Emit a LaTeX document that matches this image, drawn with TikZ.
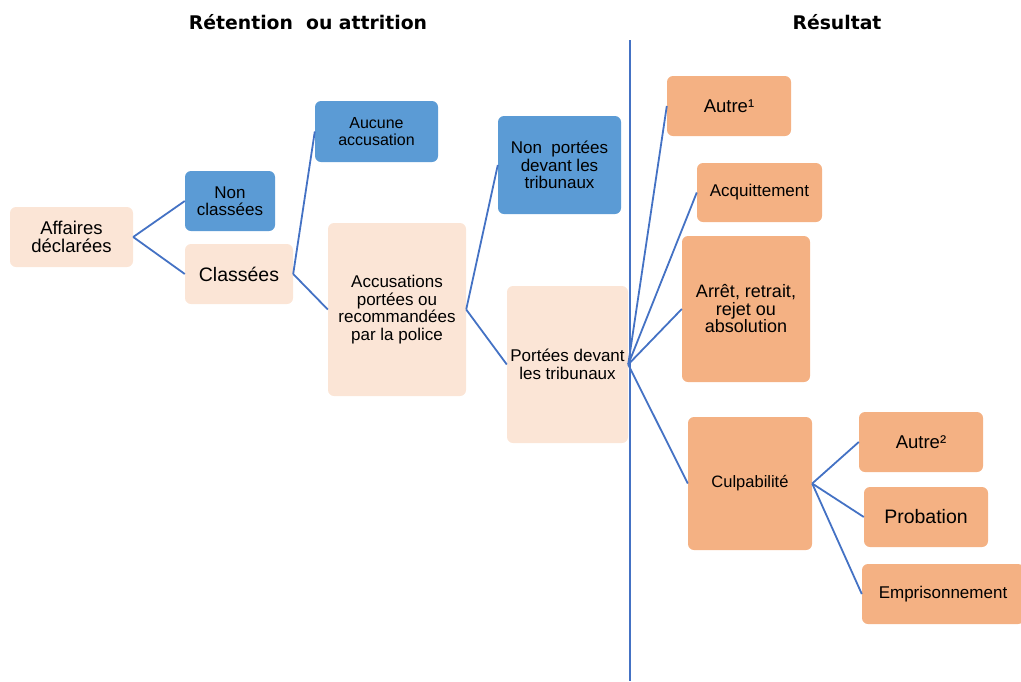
\documentclass[tikz,border=0pt]{standalone}
\usepackage{fontspec}
\setmainfont{Liberation Sans}
\newfontfamily\titlefont{DejaVu Sans}
\usepackage{tikz}

\definecolor{paleorange}{HTML}{FBE5D6}
\definecolor{midblue}{HTML}{5B9BD5}
\definecolor{softorange}{HTML}{F4B183}
\definecolor{linkblue}{HTML}{4472C4}

\tikzset{
  box/.style={rounded corners=6pt, align=center, inner sep=2pt, text=black,
    font=\fontsize{17}{17.5}\selectfont},
  kept/.style={box, fill=paleorange},
  dropped/.style={box, fill=midblue},
  outcome/.style={box, fill=softorange},
  link/.style={draw=linkblue, line width=1.8pt},
  heading/.style={font=\titlefont\bfseries\fontsize{18.8}{20}\selectfont}
}

\begin{document}
\begin{tikzpicture}[x=1pt, y=-1pt]

\useasboundingbox (0,0) rectangle (1021,681);

\node[heading] (titleleft) at (308,22) {Rétention\ \ ou attrition};
\node[heading] (titleright) at (837,22) {Résultat};

\coordinate (septop) at (630,40);
\coordinate (sepbot) at (630,681);
\draw[link, line width=1.4pt] (septop) -- (sepbot);

\node[kept, minimum width=123pt, minimum height=60pt, font=\fontsize{18.5}{18.5}\selectfont] (affaires) at (71.5,237) {Affaires\\déclarées};

\node[dropped, minimum width=90pt, minimum height=60pt] (nonclass) at (230,201) {Non\\classées};
\node[kept, minimum width=108pt, minimum height=60pt, font=\fontsize{19.5}{20}\selectfont] (classees) at (239,274) {Classées};

\node[dropped, minimum width=123pt, minimum height=61pt, font=\fontsize{16}{16.5}\selectfont] (aucune) at (376.5,131.5) {Aucune\\accusation};
\node[kept, minimum width=138pt, minimum height=173pt] (accus) at (397,309.5) {Accusations\\portées ou\\recommandées\\par la police};

\node[dropped, minimum width=123pt, minimum height=98pt] (nonportees) at (559.5,165) {Non\ \ portées\\devant les\\tribunaux};
\node[kept, minimum width=121pt, minimum height=157pt] (portees) at (567.5,364.5) {Portées devant\\les tribunaux};

\node[outcome, minimum width=124pt, minimum height=60pt, font=\fontsize{18.5}{19}\selectfont] (autreun) at (729,106) {Autre¹};
\node[outcome, minimum width=125pt, minimum height=59pt] (acquit) at (759.5,192.5) {Acquittement};
\node[outcome, minimum width=128pt, minimum height=146pt, font=\fontsize{18}{17.5}\selectfont] (arret) at (746,309) {Arrêt, retrait,\\rejet ou\\absolution};
\node[outcome, minimum width=124pt, minimum height=133pt, font=\fontsize{16.5}{17}\selectfont] (culpa) at (750,483.5) {Culpabilité};

\node[outcome, minimum width=124pt, minimum height=60pt, font=\fontsize{18.5}{19}\selectfont] (autredeux) at (921,442) {Autre²};
\node[outcome, minimum width=124pt, minimum height=60pt, font=\fontsize{19.5}{20}\selectfont] (probation) at (926,517) {Probation};
\node[outcome, minimum width=162pt, minimum height=60pt] (prison) at (943,594) {Emprisonnement};

\draw[link] (affaires.east) -- (nonclass.west);
\draw[link] (affaires.east) -- (classees.west);
\draw[link] (classees.east) -- (aucune.west);
\draw[link] (classees.east) -- (accus.west);
\draw[link] (accus.east) -- (nonportees.west);
\draw[link] (accus.east) -- (portees.west);
\draw[link] (portees.east) -- (autreun.west);
\draw[link] (portees.east) -- (acquit.west);
\draw[link] (portees.east) -- (arret.west);
\draw[link] (portees.east) -- (culpa.west);
\draw[link] (culpa.east) -- (autredeux.west);
\draw[link] (culpa.east) -- (probation.west);
\draw[link] (culpa.east) -- (prison.west);

\end{tikzpicture}
\end{document}
